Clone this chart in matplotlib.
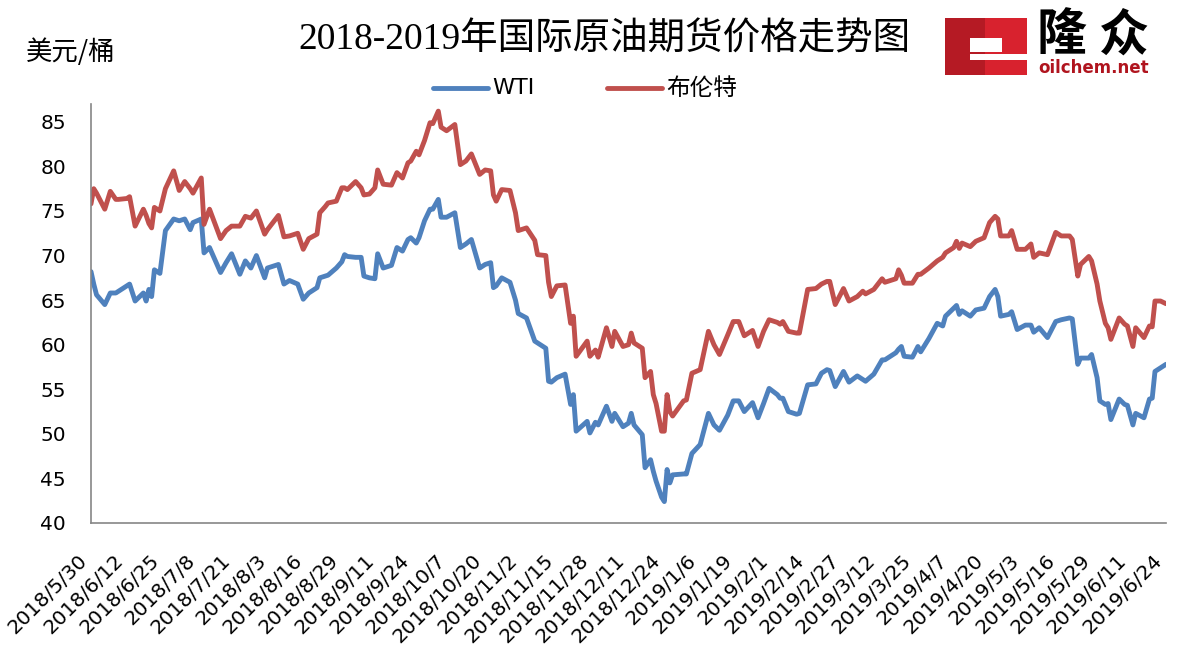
import pandas as pd
import matplotlib
matplotlib.use('Agg')
import matplotlib.pyplot as plt
from matplotlib.patches import Rectangle
from matplotlib.lines import Line2D
from matplotlib.transforms import ScaledTranslation

plt.rcParams['font.family'] = ['DejaVu Sans', 'Noto Sans CJK SC']

# price points (USD/bbl)
dates = [
    '2018-05-30', '2018-05-31', '2018-06-01', '2018-06-04', '2018-06-06', '2018-06-08', '2018-06-09',
    '2018-06-12', '2018-06-13', '2018-06-15', '2018-06-18', '2018-06-19', '2018-06-20', '2018-06-21',
    '2018-06-22', '2018-06-24', '2018-06-26', '2018-06-29', '2018-07-01', '2018-07-03', '2018-07-05',
    '2018-07-06', '2018-07-09', '2018-07-10', '2018-07-12', '2018-07-16', '2018-07-18', '2018-07-20',
    '2018-07-23', '2018-07-25', '2018-07-27', '2018-07-29', '2018-08-01', '2018-08-02', '2018-08-03',
    '2018-08-06', '2018-08-08', '2018-08-10', '2018-08-13', '2018-08-15', '2018-08-17', '2018-08-20',
    '2018-08-21', '2018-08-23', '2018-08-24', '2018-08-27', '2018-08-29', '2018-08-30', '2018-08-31',
    '2018-09-03', '2018-09-05', '2018-09-06', '2018-09-08', '2018-09-10', '2018-09-11', '2018-09-13',
    '2018-09-16', '2018-09-18', '2018-09-20', '2018-09-22', '2018-09-23', '2018-09-25', '2018-09-26',
    '2018-09-28', '2018-09-30', '2018-10-01', '2018-10-03', '2018-10-04', '2018-10-06', '2018-10-09',
    '2018-10-11', '2018-10-13', '2018-10-15', '2018-10-18', '2018-10-20', '2018-10-22', '2018-10-23',
    '2018-10-24', '2018-10-26', '2018-10-29', '2018-10-31', '2018-11-01', '2018-11-04', '2018-11-07',
    '2018-11-08', '2018-11-11', '2018-11-12', '2018-11-13', '2018-11-15', '2018-11-18', '2018-11-20',
    '2018-11-21', '2018-11-22', '2018-11-26', '2018-11-27', '2018-11-29', '2018-11-30', '2018-12-03',
    '2018-12-05', '2018-12-06', '2018-12-09', '2018-12-11', '2018-12-12', '2018-12-13', '2018-12-16',
    '2018-12-17', '2018-12-19', '2018-12-20', '2018-12-21', '2018-12-23', '2018-12-24', '2018-12-25',
    '2018-12-26', '2018-12-27', '2018-12-31', '2019-01-01', '2019-01-03', '2019-01-06', '2019-01-09',
    '2019-01-11', '2019-01-13', '2019-01-16', '2019-01-18', '2019-01-20', '2019-01-22', '2019-01-25',
    '2019-01-27', '2019-01-29', '2019-01-31', '2019-02-03', '2019-02-04', '2019-02-05', '2019-02-07',
    '2019-02-10', '2019-02-11', '2019-02-14', '2019-02-17', '2019-02-19', '2019-02-21', '2019-02-22',
    '2019-02-24', '2019-02-27', '2019-03-01', '2019-03-04', '2019-03-06', '2019-03-07', '2019-03-10',
    '2019-03-13', '2019-03-14', '2019-03-18', '2019-03-19', '2019-03-20', '2019-03-21', '2019-03-24',
    '2019-03-26', '2019-03-27', '2019-03-30', '2019-04-02', '2019-04-04', '2019-04-05', '2019-04-08',
    '2019-04-09', '2019-04-10', '2019-04-11', '2019-04-14', '2019-04-16', '2019-04-19', '2019-04-21',
    '2019-04-23', '2019-04-24', '2019-04-25', '2019-04-28', '2019-04-29', '2019-05-01', '2019-05-04',
    '2019-05-06', '2019-05-07', '2019-05-09', '2019-05-12', '2019-05-15', '2019-05-17', '2019-05-20',
    '2019-05-21', '2019-05-23', '2019-05-24', '2019-05-27', '2019-05-28', '2019-05-30', '2019-05-31',
    '2019-06-02', '2019-06-03', '2019-06-04', '2019-06-07', '2019-06-09', '2019-06-10', '2019-06-12',
    '2019-06-13', '2019-06-16', '2019-06-18', '2019-06-19', '2019-06-20', '2019-06-22', '2019-06-24',
]

wti = [
    68.2, 66.8, 65.6, 64.5, 65.8, 65.8, 66.0,
    66.6, 66.8, 64.9, 65.8, 64.9, 66.2, 65.4,
    68.4, 68.0, 72.8, 74.1, 73.9, 74.1, 72.9,
    73.7, 74.1, 70.3, 70.9, 68.1, 69.2, 70.2,
    67.9, 69.4, 68.6, 70.0, 67.5, 68.6, 68.7,
    69.0, 66.8, 67.2, 66.8, 65.1, 65.8, 66.4,
    67.5, 67.7, 67.8, 68.6, 69.3, 70.1, 69.9,
    69.8, 69.8, 67.7, 67.5, 67.4, 70.2, 68.6,
    68.9, 70.9, 70.5, 71.8, 72.0, 71.4, 72.0,
    73.9, 75.2, 75.2, 76.3, 74.3, 74.3, 74.8,
    70.9, 71.3, 71.8, 68.6, 69.0, 69.2, 66.4,
    66.6, 67.5, 67.0, 65.0, 63.5, 63.0, 60.4,
    60.2, 59.6, 55.9, 55.8, 56.3, 56.7, 53.3,
    54.4, 50.3, 51.4, 50.1, 51.3, 51.0, 53.1,
    51.4, 52.3, 50.8, 51.2, 52.3, 51.0, 49.9,
    46.2, 47.1, 45.8, 44.7, 42.9, 42.4, 46.0,
    44.5, 45.4, 45.5, 45.5, 47.8, 48.8, 52.3,
    51.0, 50.4, 52.1, 53.7, 53.7, 52.5, 53.5,
    51.8, 53.4, 55.1, 54.4, 54.0, 54.0, 52.5,
    52.2, 52.3, 55.5, 55.6, 56.8, 57.2, 57.1,
    55.3, 57.0, 55.8, 56.5, 56.1, 55.9, 56.7,
    58.3, 58.3, 59.1, 59.5, 59.8, 58.7, 58.6,
    59.8, 59.2, 60.7, 62.4, 62.1, 63.2, 64.1,
    64.4, 63.4, 63.8, 63.2, 63.9, 64.1, 65.4,
    66.2, 65.4, 63.2, 63.4, 63.7, 61.7, 62.2,
    62.2, 61.4, 61.9, 60.8, 62.6, 62.8, 63.0,
    62.9, 57.8, 58.5, 58.5, 58.9, 56.3, 53.7,
    53.3, 53.4, 51.6, 53.9, 53.3, 53.2, 51.0,
    52.3, 51.8, 53.9, 54.0, 57.0, 57.4, 57.8,
]

brent = [
    75.8, 77.5, 77.0, 75.2, 77.2, 76.3, 76.3,
    76.4, 76.6, 73.3, 75.2, 74.5, 73.6, 73.1,
    75.4, 75.0, 77.5, 79.5, 77.3, 78.3, 77.5,
    77.0, 78.7, 73.5, 75.2, 71.9, 72.8, 73.3,
    73.3, 74.4, 74.2, 75.0, 72.4, 72.9, 73.3,
    74.5, 72.1, 72.2, 72.5, 70.7, 71.9, 72.4,
    74.8, 75.5, 75.9, 76.1, 77.6, 77.6, 77.4,
    78.3, 77.6, 76.8, 76.9, 77.6, 79.6, 78.0,
    77.9, 79.3, 78.7, 80.4, 80.6, 81.7, 81.3,
    82.9, 84.9, 84.8, 86.2, 84.4, 84.0, 84.7,
    80.2, 80.6, 81.4, 79.1, 79.6, 79.5, 76.8,
    76.1, 77.4, 77.3, 74.8, 72.8, 73.1, 71.7,
    70.1, 70.0, 67.0, 65.4, 66.6, 66.7, 62.4,
    63.2, 58.7, 60.4, 58.7, 59.4, 58.6, 61.9,
    59.8, 61.5, 59.8, 60.0, 61.3, 60.2, 59.6,
    56.3, 57.0, 54.4, 53.4, 50.3, 50.3, 54.4,
    52.5, 52.0, 53.7, 53.8, 56.8, 57.2, 61.5,
    60.0, 58.9, 61.1, 62.6, 62.6, 61.0, 61.6,
    59.8, 61.5, 62.8, 62.5, 62.3, 62.6, 61.5,
    61.3, 61.3, 66.2, 66.3, 66.8, 67.1, 67.1,
    64.5, 66.3, 64.9, 65.4, 66.0, 65.7, 66.2,
    67.4, 67.0, 67.4, 68.4, 67.8, 66.9, 66.9,
    67.9, 67.9, 68.6, 69.4, 69.8, 70.3, 70.9,
    71.6, 70.8, 71.4, 71.0, 71.6, 72.0, 73.7,
    74.4, 74.1, 72.2, 72.2, 72.8, 70.7, 70.7,
    71.3, 69.8, 70.3, 70.1, 72.6, 72.2, 72.2,
    71.8, 67.7, 69.0, 69.9, 69.4, 66.8, 64.9,
    62.4, 61.9, 60.6, 63.0, 62.3, 62.1, 59.8,
    61.9, 60.8, 62.1, 62.0, 64.9, 64.9, 64.6,
]

series_names = ['WTI', '布伦特']
series_colors = ['#4F81BD', '#C0504D']
title = '2018-2019年国际原油期货价格走势图'
unit_label = '美元/桶'

tick_dates = pd.date_range('2018-05-30', '2019-06-24', freq='13D')
tick_labels = [f'{d.year}/{d.month}/{d.day}' for d in tick_dates]

W, H = 1194, 664


def fx(px):
    return px / W


def fy(py):
    return 1 - py / H


fig = plt.figure(figsize=(W / 100, H / 100), dpi=100)
ax = fig.add_axes([fx(91), fy(523), fx(1166) - fx(91), fy(104) - fy(523)])

x = pd.to_datetime(dates)
for vals, col in zip([wti, brent], series_colors):
    ax.plot(x, vals, color=col, lw=3.5, solid_joinstyle='round', solid_capstyle='round')

ax.set_xlim(tick_dates[0], tick_dates[-1])
ax.set_ylim(40, 87)
ax.set_yticks(range(40, 90, 5))
ax.set_xticks(tick_dates)
ax.set_xticklabels(tick_labels, rotation=45, ha='right', fontsize=14.5)
# nudge the rotated labels a little right, as in the reference
shift = ScaledTranslation(4 / 100, 0, fig.dpi_scale_trans)
for lab in ax.get_xticklabels():
    lab.set_transform(lab.get_transform() + shift)

for side in ['top', 'right']:
    ax.spines[side].set_visible(False)
for side in ['left', 'bottom']:
    ax.spines[side].set_color('#868686')
    ax.spines[side].set_linewidth(1.2)
ax.tick_params(axis='both', length=0)
ax.tick_params(axis='y', pad=18, labelsize=14.5)
ax.tick_params(axis='x', pad=20)

# title and unit
fig.text(fx(604), fy(40), title, fontsize=27, family=['Liberation Serif', 'Noto Sans CJK SC'],
         ha='center', va='center')
fig.text(fx(26), fy(52), unit_label, fontsize=19, family=['Noto Sans CJK SC'],
         ha='left', va='center')

# legend drawn by hand to match spacing
leg_x = [433, 607]
for lx, name, col in zip(leg_x, series_names, series_colors):
    fig.add_artist(Line2D([fx(lx), fx(lx + 55)], [fy(88), fy(88)], color=col, lw=3.5,
                          solid_capstyle='round'))
    fig.text(fx(lx + 59), fy(88), name, fontsize=16 if name == 'WTI' else 17,
             ha='left', va='center')

# logo
fig.add_artist(Rectangle((fx(945), fy(75)), fx(985) - fx(945), fy(18) - fy(75),
                         transform=fig.transFigure, color='#B51A24', lw=0))
fig.add_artist(Rectangle((fx(985), fy(75)), fx(1027) - fx(985), fy(18) - fy(75),
                         transform=fig.transFigure, color='#D8222E', lw=0))
fig.add_artist(Rectangle((fx(970), fy(52)), fx(1002) - fx(970), fy(38) - fy(52),
                         transform=fig.transFigure, color='white', lw=0))
fig.add_artist(Rectangle((fx(970), fy(60)), fx(1027) - fx(970), fy(54) - fy(60),
                         transform=fig.transFigure, color='white', lw=0))
for ch, cx in zip('隆众', [1037, 1099]):
    fig.text(fx(cx), fy(36), ch, fontsize=36, fontweight='bold', family=['Noto Sans CJK SC'],
             ha='left', va='center')
fig.text(fx(1038), fy(68), 'oilchem.net', fontsize=12, fontweight='bold', color='#B0141E',
         ha='left', va='center')

fig.savefig('out.png', dpi=100)
